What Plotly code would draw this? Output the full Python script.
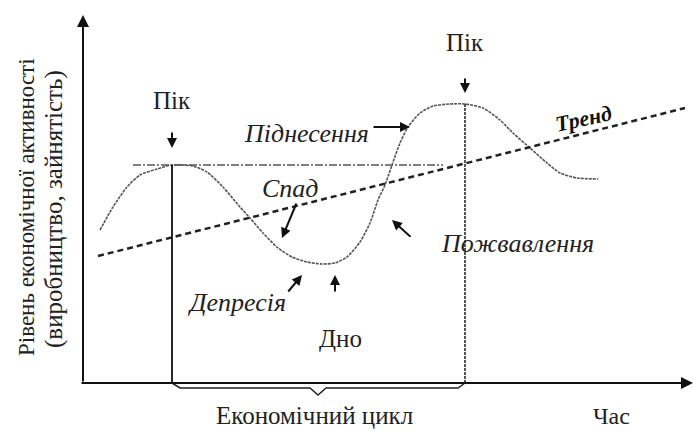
import plotly.graph_objects as go

# economic cycle diagram, units: time from origin / activity level above the time axis
cycle_t = [17, 30, 44, 57, 74, 89, 110, 124, 140, 157, 167, 180, 195, 209, 224, 239, 252,
           264, 277, 287, 295, 302, 309, 317, 325, 337, 350, 367, 382, 400, 417, 430,
           447, 464, 477, 494, 515]
cycle_level = [153, 176, 196, 208, 214, 218, 217, 211, 196, 176, 165, 150, 135, 126, 121,
               119, 120, 126, 141, 160, 183, 198, 218, 240, 256, 270, 277, 279, 279, 275,
               263, 250, 235, 220, 210, 205, 204]

trend_t = [15, 602]
trend_level = [127, 275]

peak1 = (89, 218)
peak2 = (382, 279)
peak_line_t = [50, 360]

brace_t = [89, 97, 227, 235, 243, 375, 382]
brace_level = [0, -5, -5, -12, -5, -5, 0]

# label text and position
labels = [
    ("Пік", 89, 283),
    ("Пік", 382, 341),
    ("<i>Піднесення</i>", 223, 250),
    ("<i>Спад</i>", 207, 195),
    ("<i>Депресія</i>", 153, 81),
    ("Дно", 257, 45),
    ("<i>Пожвавлення</i>", 434, 140),
]

# arrows: head x, head y, tail x, tail y
arrows = [
    (89, 235, 89, 252),
    (382, 290, 382, 306),
    (327, 256, 289, 256),
    (199, 145, 214, 181),
    (219, 108, 204, 90),
    (252, 108, 252, 90),
    (309, 163, 329, 145),
]

FONT = "Liberation Serif"

fig = go.Figure()

fig.add_trace(go.Scatter(x=cycle_t, y=cycle_level, mode="lines",
                         line=dict(color="#555", width=1.6, dash="3px,1px", shape="spline", smoothing=0.6)))
fig.add_trace(go.Scatter(x=trend_t, y=trend_level, mode="lines",
                         line=dict(color="#222", width=2.5, dash="6px,4px")))
fig.add_trace(go.Scatter(x=peak_line_t, y=[peak1[1], peak1[1]], mode="lines",
                         line=dict(color="#555", width=1.5, dash="8px,2px,2px,2px")))
fig.add_trace(go.Scatter(x=[peak1[0], peak1[0]], y=[0, peak1[1]], mode="lines",
                         line=dict(color="#111", width=1.8)))
fig.add_trace(go.Scatter(x=[peak2[0], peak2[0]], y=[0, peak2[1]], mode="lines",
                         line=dict(color="#444", width=1.8, dash="3px,1px")))
fig.add_trace(go.Scatter(x=brace_t, y=brace_level, mode="lines",
                         line=dict(color="#222", width=1.5)))

# axes with arrows
fig.add_annotation(x=610, y=0, ax=-3, ay=0, xref="x", yref="y", axref="x", ayref="y",
                   text="", showarrow=True, arrowhead=2, arrowsize=1.2, arrowwidth=2, arrowcolor="#111")
fig.add_annotation(x=0, y=368, ax=0, ay=0, xref="x", yref="y", axref="x", ayref="y",
                   text="", showarrow=True, arrowhead=2, arrowsize=1.2, arrowwidth=2, arrowcolor="#111")

for hx, hy, tx, ty in arrows:
    fig.add_annotation(x=hx, y=hy, ax=tx, ay=ty, xref="x", yref="y", axref="x", ayref="y",
                       text="", showarrow=True, arrowhead=2, arrowsize=1, arrowwidth=2, arrowcolor="#111")

for text, x, y in labels:
    size = 26 if text.startswith("<i>") else 25
    fig.add_annotation(x=x, y=y, text=text, showarrow=False,
                       font=dict(family=FONT, size=size, color="#222"))

# bottom captions sit on the lower edge
fig.add_annotation(x=231, y=-48, yanchor="bottom", text="Економічний цикл", showarrow=False,
                   font=dict(family=FONT, size=25, color="#222"))
fig.add_annotation(x=528, y=-48, yanchor="bottom", text="Час", showarrow=False,
                   font=dict(family=FONT, size=24, color="#222"))

fig.add_annotation(x=500, y=265, text="<b><i>Тренд</i></b>", showarrow=False, textangle=-12,
                   font=dict(family=FONT, size=22, color="#111"))

fig.add_annotation(x=-57, y=176, text="Рівень економічної активності", showarrow=False,
                   textangle=-90, font=dict(family=FONT, size=23, color="#222"))
fig.add_annotation(x=-29, y=174, text="(виробництво, зайнятість)", showarrow=False,
                   textangle=-90, font=dict(family=FONT, size=25, color="#222"))

fig.update_layout(
    width=693, height=431,
    margin=dict(l=0, r=0, t=0, b=0),
    paper_bgcolor="white", plot_bgcolor="white",
    showlegend=False,
    xaxis=dict(range=[-83, 610], visible=False, fixedrange=True),
    yaxis=dict(range=[-48, 383], visible=False, fixedrange=True),
)

# drop the default page margin so the figure sits at the window corner
fig.write_html("out.html", config={"displayModeBar": False},
               post_script="document.body.style.margin='0';")
